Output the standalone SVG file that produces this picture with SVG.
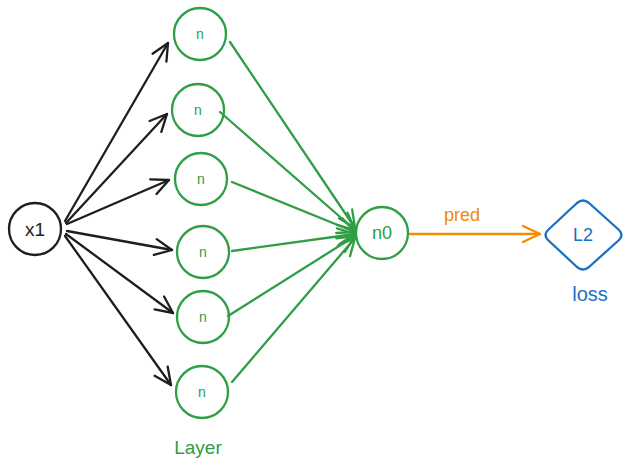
<svg xmlns="http://www.w3.org/2000/svg" width="634" height="469" viewBox="0 0 634 469">
<defs>
<style>
.k{fill:none;stroke:#1e1e1e;stroke-width:2.3;stroke-linecap:round}
.g{fill:none;stroke:#2f9e44;stroke-width:2.3;stroke-linecap:round}
.o{fill:none;stroke:#f08c00;stroke-width:2.3;stroke-linecap:round}
.b{fill:none;stroke:#1971c2;stroke-width:2.3;stroke-linejoin:round}
.t{font-family:"Liberation Sans",Arial,sans-serif;text-anchor:middle;dominant-baseline:central}
</style>
<marker id="ak" viewBox="-19 -10 21 20" refX="0" refY="0" markerWidth="21" markerHeight="20" markerUnits="userSpaceOnUse" orient="auto"><path d="M-17,-8 L0,0 L-17,8" fill="none" stroke="#1e1e1e" stroke-width="2.3" stroke-linecap="round" stroke-linejoin="round"/></marker>
<marker id="ag" viewBox="-19 -10 21 20" refX="0" refY="0" markerWidth="21" markerHeight="20" markerUnits="userSpaceOnUse" orient="auto"><path d="M-17,-8 L0,0 L-17,8" fill="none" stroke="#2f9e44" stroke-width="2.3" stroke-linecap="round" stroke-linejoin="round"/></marker>
<marker id="ao" viewBox="-19 -10 21 20" refX="0" refY="0" markerWidth="21" markerHeight="20" markerUnits="userSpaceOnUse" orient="auto"><path d="M-17,-8 L0,0 L-17,8" fill="none" stroke="#f08c00" stroke-width="2.3" stroke-linecap="round" stroke-linejoin="round"/></marker>
</defs>
<g id="connectors">
<line class="k" x1="65" y1="221" x2="168" y2="43" marker-end="url(#ak)"/>
<line class="k" x1="66" y1="223" x2="167" y2="114" marker-end="url(#ak)" stroke-width="3"/>
<line class="k" x1="67" y1="224" x2="169" y2="180" marker-end="url(#ak)" stroke-width="3"/>
<line class="k" x1="67" y1="231" x2="172" y2="250" marker-end="url(#ak)" stroke-width="3"/>
<line class="k" x1="66" y1="234" x2="173" y2="313" marker-end="url(#ak)"/>
<line class="k" x1="65" y1="236" x2="171" y2="385" marker-end="url(#ak)"/>
<line class="g" x1="230" y1="42" x2="355" y2="228" marker-end="url(#ag)" stroke-width="3"/>
<line class="g" x1="220" y1="112" x2="355" y2="230" marker-end="url(#ag)"/>
<line class="g" x1="232" y1="182" x2="355" y2="232" marker-end="url(#ag)"/>
<line class="g" x1="232" y1="251" x2="355" y2="234" marker-end="url(#ag)"/>
<line class="g" x1="228" y1="316" x2="355" y2="236" marker-end="url(#ag)" stroke-width="3"/>
<line class="g" x1="232" y1="382" x2="355" y2="238" marker-end="url(#ag)" stroke-width="3"/>
<line class="o" x1="409" y1="234" x2="540" y2="234" marker-end="url(#ao)"/>
<text class="t" x="462" y="215" font-size="18" fill="#f08c00">pred</text>
</g>
<g id="x1">
<circle class="k" cx="35" cy="229" r="26"/>
<text class="t" x="35" y="229" font-size="19" fill="#1e1e1e">x1</text>
</g>
<g id="n1">
<circle class="g" cx="200" cy="34" r="26"/>
<text class="t" x="200" y="34" font-size="14" fill="#2f9e44">n</text>
</g>
<g id="n2">
<circle class="g" cx="198" cy="110" r="26"/>
<text class="t" x="198" y="110" font-size="14" fill="#2f9e44">n</text>
</g>
<g id="n3">
<circle class="g" cx="201" cy="179" r="26"/>
<text class="t" x="201" y="179" font-size="14" fill="#2f9e44">n</text>
</g>
<g id="n4">
<circle class="g" cx="203" cy="252" r="26"/>
<text class="t" x="203" y="252" font-size="14" fill="#2f9e44">n</text>
</g>
<g id="n5">
<circle class="g" cx="203" cy="317" r="26"/>
<text class="t" x="203" y="317" font-size="14" fill="#2f9e44">n</text>
</g>
<g id="n6">
<circle class="g" cx="202" cy="392" r="26"/>
<text class="t" x="202" y="392" font-size="14" fill="#2f9e44">n</text>
</g>
<g id="layer-label">
<text class="t" x="198" y="447" font-size="19" fill="#2f9e44">Layer</text>
</g>
<g id="n0">
<circle class="g" cx="382" cy="233" r="26"/>
<text class="t" x="382" y="233" font-size="18" fill="#2f9e44">n0</text>
</g>
<g id="L2">
<path class="b" d="M577,203 Q583,198 589,203 L619,230 Q624,235 619,240 L589,267 Q583,272 577,267 L548,240 Q543,235 548,230 Z"/>
<text class="t" x="583" y="235" font-size="18" fill="#1971c2">L2</text>
<text class="t" x="590" y="294" font-size="20" fill="#1971c2">loss</text>
</g>
</svg>
